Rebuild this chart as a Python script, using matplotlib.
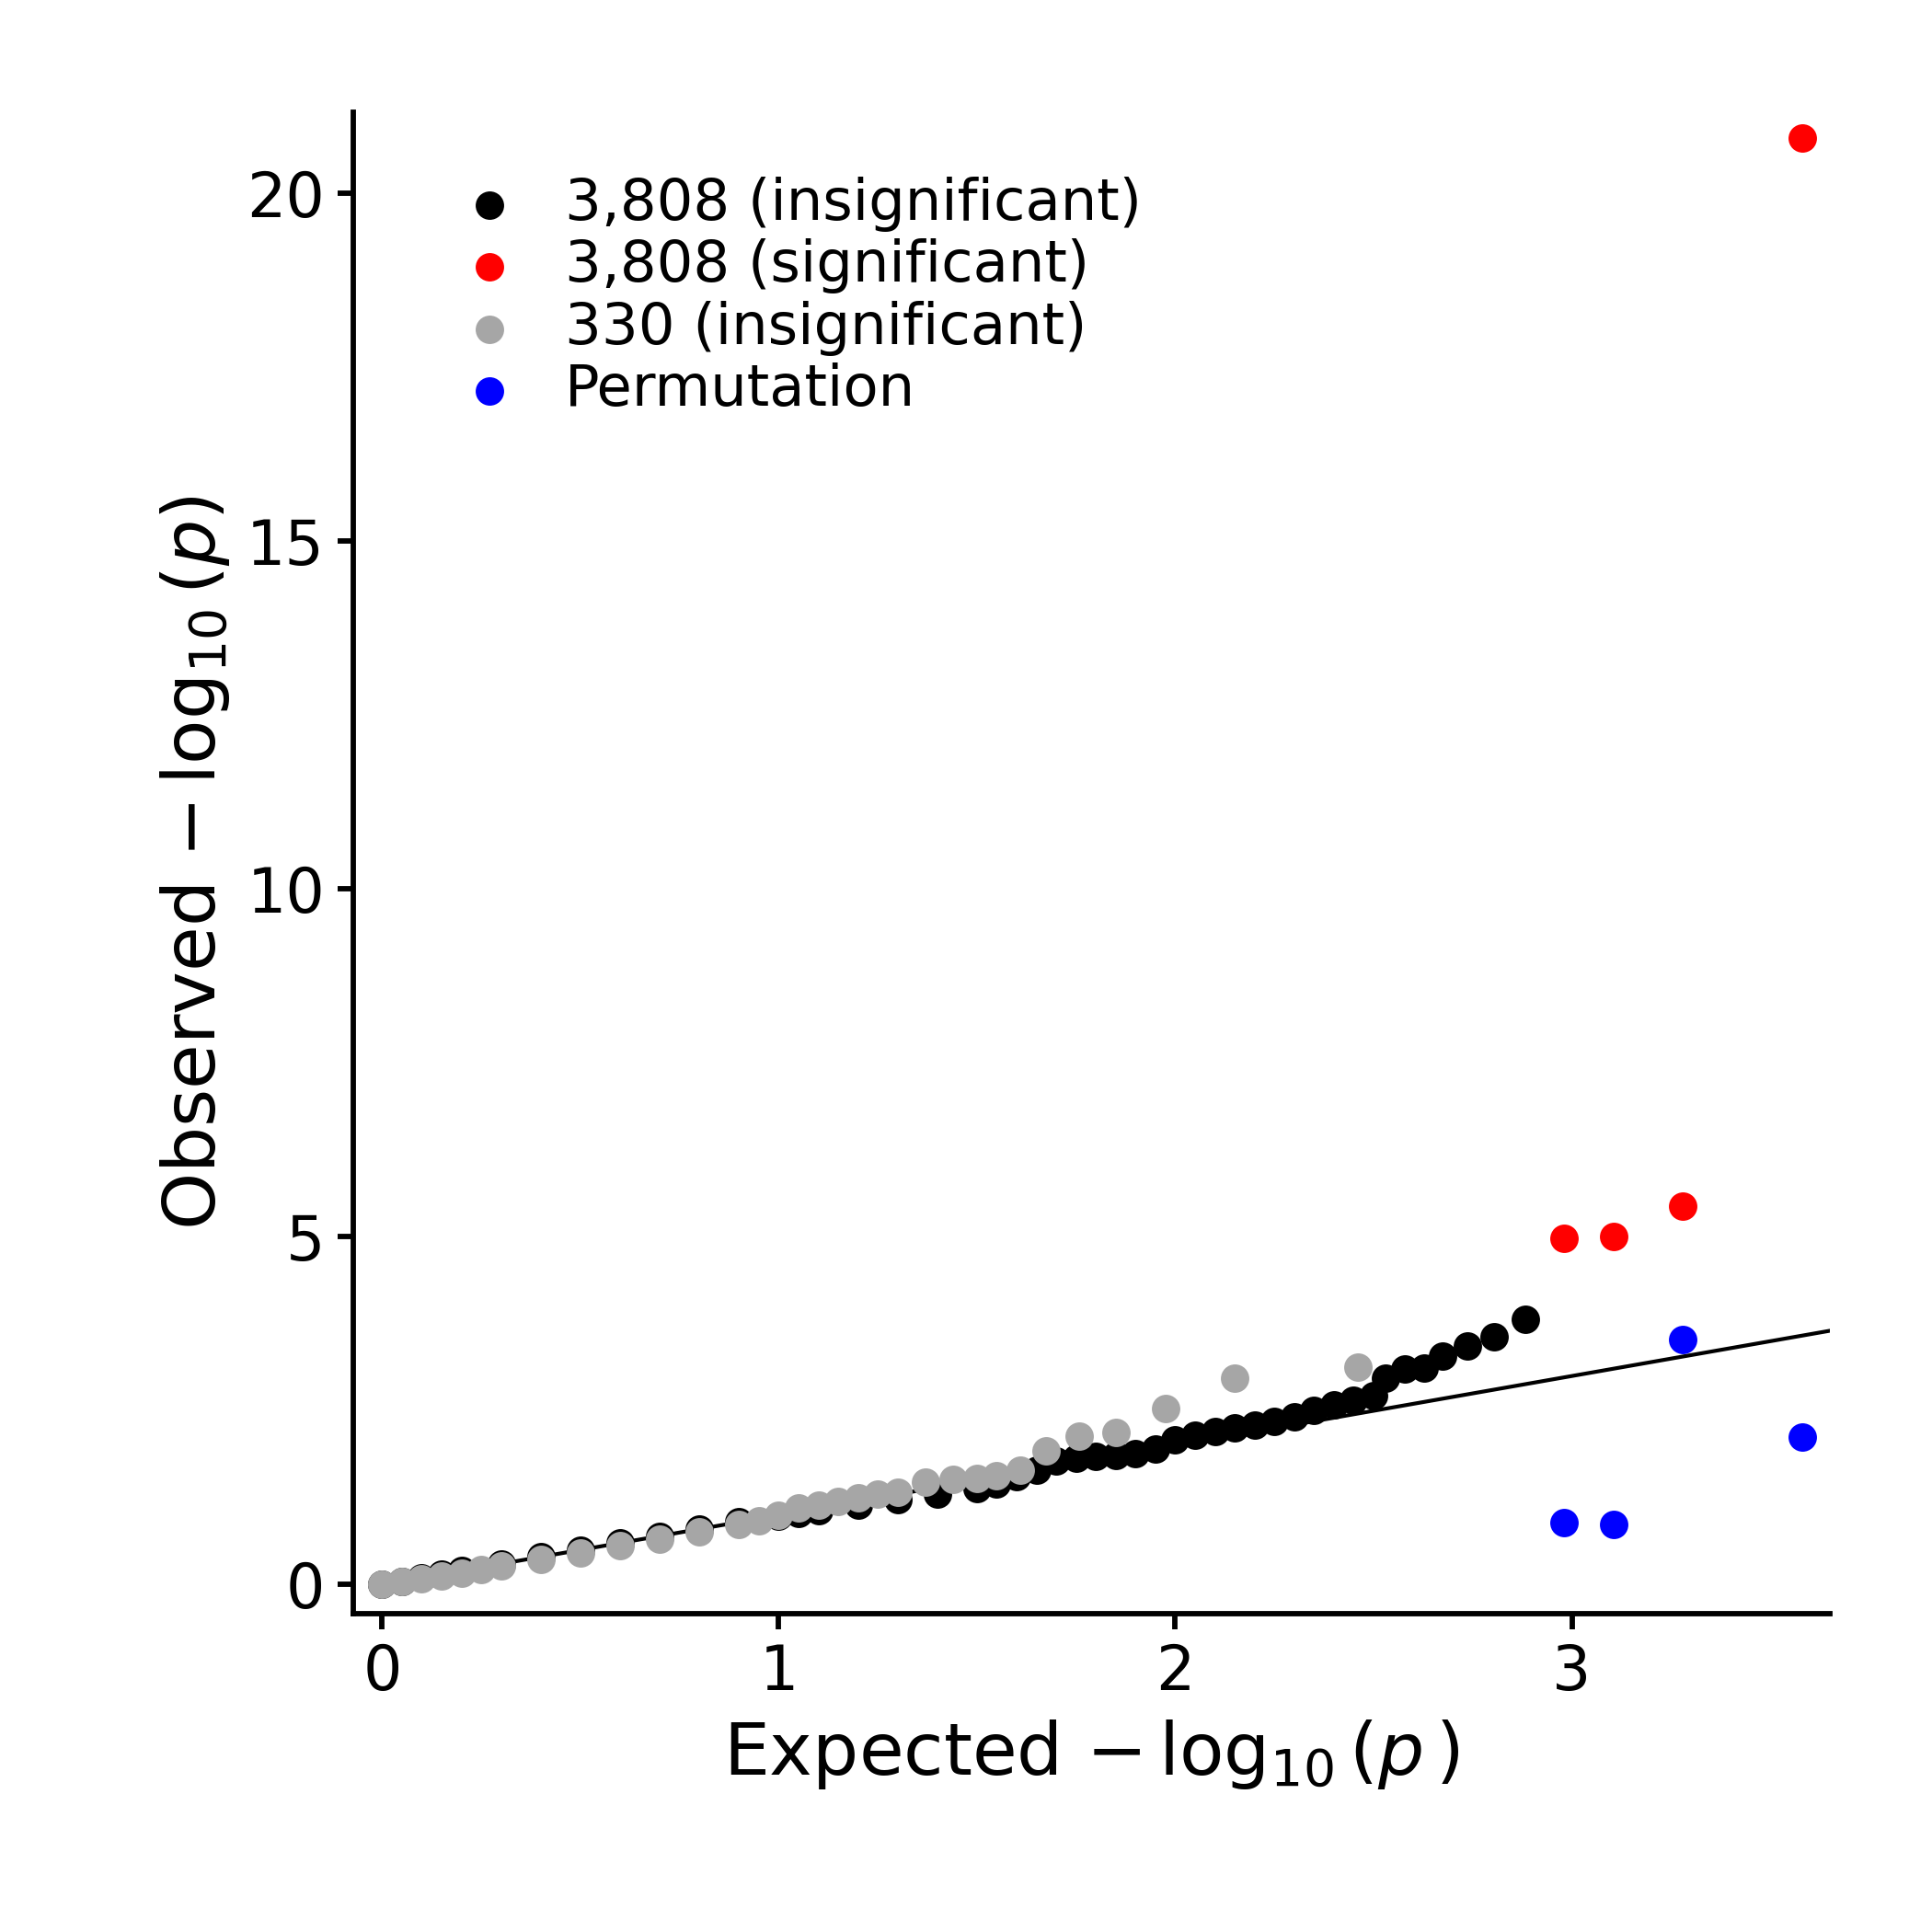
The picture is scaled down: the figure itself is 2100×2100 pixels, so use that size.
import numpy as np
import matplotlib
matplotlib.use("Agg")
import matplotlib.pyplot as plt

# values (expected, observed -log10 p)
black_x = [0.0, 0.05, 0.1, 0.15, 0.2, 0.3, 0.4, 0.5, 0.6, 0.7, 0.8, 0.9, 1.0, 1.05, 1.1, 1.2, 1.3,
           1.4, 1.5, 1.55, 1.6, 1.65, 1.7, 1.75, 1.8, 1.85, 1.9, 1.95, 2.0, 2.05, 2.1, 2.15, 2.2,
           2.25, 2.3, 2.35, 2.4, 2.45, 2.5, 2.53, 2.58, 2.627, 2.674, 2.736, 2.805, 2.883]
black_y = [0.0, 0.05, 0.1, 0.15, 0.2, 0.3, 0.4, 0.5, 0.6, 0.7, 0.8, 0.9, 0.98, 1.02, 1.06, 1.14, 1.22,
           1.3, 1.38, 1.45, 1.55, 1.65, 1.78, 1.82, 1.85, 1.86, 1.88, 1.95, 2.08, 2.15, 2.2, 2.25, 2.3,
           2.35, 2.42, 2.5, 2.58, 2.65, 2.72, 2.97, 3.10, 3.11, 3.29, 3.43, 3.56, 3.81]
gray_x = [0.0, 0.05, 0.1, 0.15, 0.2, 0.25, 0.3, 0.4, 0.5, 0.6, 0.7, 0.8, 0.9, 0.95, 1.0, 1.05,
          1.1, 1.15, 1.2, 1.25, 1.3, 1.37, 1.44, 1.5, 1.55, 1.61, 1.675, 1.757, 1.85, 1.975, 2.15, 2.46]
gray_y = [0.0, 0.04, 0.09, 0.13, 0.17, 0.22, 0.27, 0.36, 0.46, 0.56, 0.66, 0.76, 0.86, 0.92, 1.0, 1.1,
          1.15, 1.2, 1.25, 1.3, 1.33, 1.48, 1.51, 1.53, 1.57, 1.65, 1.92, 2.14, 2.19, 2.53, 2.97, 3.13]
red_x = [2.98, 3.105, 3.28, 3.58]
red_y = [4.98, 5.0, 5.44, 20.8]
blue_x = [3.28, 3.58, 2.98, 3.105]
blue_y = [3.52, 2.12, 0.89, 0.87]

fig = plt.figure(figsize=(7, 7), dpi=300)
ax = fig.add_axes([0.183, 0.165, 0.764, 0.777])

lim = 3.65
ax.plot([0, lim], [0, lim], color="black", lw=1.0, zorder=1)
s = 55
ax.scatter(black_x, black_y, s=s, color="black", lw=0, zorder=2, label="3,808 (insignificant)")
ax.scatter(red_x, red_y, s=s, color="red", lw=0, zorder=3, label="3,808 (significant)")
ax.scatter(gray_x, gray_y, s=s, color="#a6a6a6", lw=0, zorder=3, label="330 (insignificant)")
ax.scatter(blue_x, blue_y, s=s, color="blue", lw=0, zorder=3, label="Permutation")

ax.set_xlim(-0.072, lim)
ax.set_ylim(-0.41, 21.17)
ax.set_xticks([0, 1, 2, 3])
ax.set_yticks([0, 5, 10, 15, 20])
for sp in ["top", "right"]:
    ax.spines[sp].set_visible(False)
for sp in ["left", "bottom"]:
    ax.spines[sp].set_linewidth(1.4)
ax.tick_params(labelsize=16, width=1.4, length=4)
ax.set_xlabel(r"Expected $-\,\log_{10}(p\,)$", fontsize=19)
ax.set_ylabel(r"Observed $-\,\log_{10}(p)$", fontsize=19)

ax.legend(loc="upper left", frameon=False, fontsize=15, handletextpad=0.3,
          labelspacing=0.12, borderaxespad=0.2, bbox_to_anchor=(0.03, 0.98))

fig.savefig("out.png", dpi=300)
